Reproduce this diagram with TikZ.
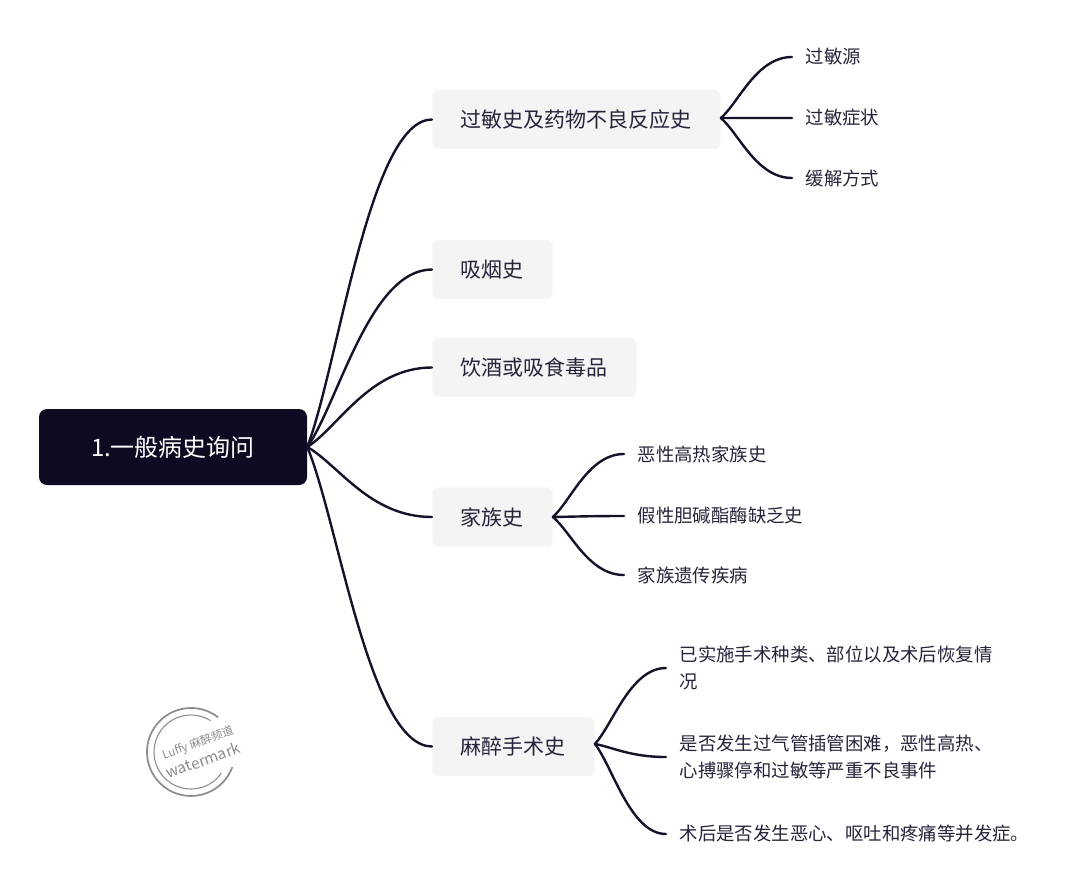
\documentclass[tikz,border=0pt]{standalone}
\usepackage{fontspec}
\setmainfont{Noto Sans CJK SC}
\definecolor{RootBg}{HTML}{0D0B22}
\definecolor{TopicBg}{HTML}{F4F4F4}
\definecolor{LinkInk}{HTML}{151229}
\definecolor{TextInk}{HTML}{26243A}
\definecolor{MarkGray}{HTML}{8C8C8C}
\usetikzlibrary{positioning,calc}
\tikzset{
  rootbox/.style={fill=RootBg,text=white,rounded corners=6pt,minimum width=201pt,minimum height=57pt,font=\fontsize{18}{22}\selectfont},
  topicbox/.style={anchor=west,fill=TopicBg,text=TextInk,rounded corners=5pt,minimum height=44.5pt,inner xsep=21.5pt,inner ysep=0pt,font=\fontsize{15.75}{19}\selectfont},
  leafbox/.style={anchor=west,text=TextInk,inner xsep=10pt,inner ysep=0pt,align=left,font=\fontsize{13.8}{19.6}\selectfont},
  linkline/.style={draw=LinkInk,line width=1.8pt,line cap=round},
}
\newcommand{\linkto}[2]{\coordinate (mid) at ($(#1)!0.5!(#2)$);
  \draw[linkline] (#1) .. controls ($(#1)!0.25!(#2)$) and (mid |- #2) .. (#2);}
\begin{document}
\begin{tikzpicture}[x=0.75pt,y=-0.75pt]
\useasboundingbox (0,0) rectangle (1080,895);
\node[rootbox] (root) at (173,447) {1.一般病史询问};
\foreach \i/\lbl/\yy in {1/{过敏史及药物不良反应史}/119.5, 2/{吸烟史}/269.5, 3/{饮酒或吸食毒品}/367.5, 4/{家族史}/517, 5/{麻醉手术史}/746.5} {
  \node[topicbox] (t\i) at (432,\yy) {\lbl};
  \linkto{root.east}{t\i.west}
}
\coordinate (t1out) at ([yshift=1.1pt]t1.east);
\coordinate (t5out) at ([yshift=1.9pt]t5.east);
\foreach \i/\lbl/\yy in {1/{过敏源}/57, 2/{过敏症状}/118, 3/{缓解方式}/178} {
  \node[leafbox] (a\i) at (792,\yy) {\lbl};
  \linkto{t1out}{a\i.west}
}
\foreach \i/\lbl/\yy in {1/{恶性高热家族史}/454, 2/{假性胆碱酯酶缺乏史}/516, 3/{家族遗传疾病}/575} {
  \node[leafbox] (b\i) at (624,\yy) {\lbl};
  \linkto{t4.east}{b\i.west}
}
\foreach \i/\lbl/\yy in {1/{已实施手术种类、部位以及术后恢复情\\况}/668, 2/{是否发生过气管插管困难，恶性高热、\\心搏骤停和过敏等严重不良事件}/757, 3/{术后是否发生恶心、呕吐和疼痛等并发症。}/834} {
  \node[leafbox] (c\i) at (666,\yy) {\lbl};
  \linkto{t5out}{c\i.west}
}
\coordinate (seal) at (191,752);
\draw[MarkGray,line width=1.3pt] (seal)+(52:33pt) arc[start angle=52,end angle=340,radius=33pt];
\draw[MarkGray,line width=0.8pt] (seal)+(58:27.75pt) arc[start angle=58,end angle=325,radius=27.75pt];
\node[rotate=20,text=MarkGray,font=\fontsize{8.6}{10}\selectfont,inner sep=0pt] (mark1) at (198,743) {Luffy 麻醉频道};
\node[rotate=20,text=MarkGray,font=\fontsize{11.5}{12}\selectfont,inner sep=0pt] (mark2) at (203,760) {watermark};
\end{tikzpicture}
\end{document}
